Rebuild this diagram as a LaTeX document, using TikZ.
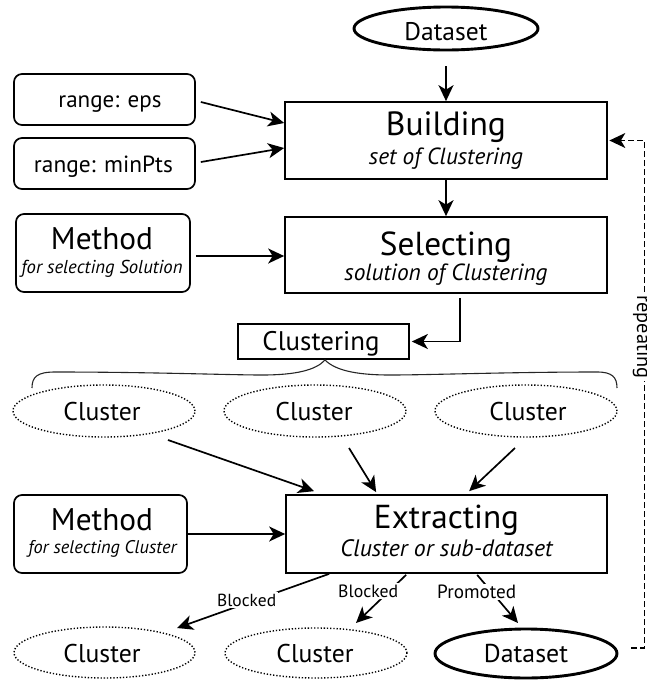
\documentclass[tikz,border=0pt]{standalone}
\usepackage{fontspec}
\setmainfont{PT Sans}
\usetikzlibrary{shapes.geometric,arrows.meta,calc}
\newcommand\tw[2]{\resizebox{#1pt}{!}{#2}}
\begin{document}
\begin{tikzpicture}[x=1pt,y=-1pt,
  box/.style={draw, rectangle, line width=1.7pt, inner sep=0pt},
  rbox/.style={box, rounded corners=8pt},
  ell/.style={ellipse, inner sep=0pt},
  dotell/.style={ell, draw, line width=1.4pt, dash pattern=on 1.3pt off 1.9pt},
  thickell/.style={ell, draw, line width=2.9pt},
  txt/.style={anchor=base, inner sep=0pt},
  arr/.style={line width=1.7pt, -{Stealth[length=16pt,width=15pt,inset=4.5pt]}},
  lbl/.style={fill=white, inner sep=1.5pt},
  dasharr/.style={arr, line width=1.3pt, dash pattern=on 6pt off 3pt}]
\useasboundingbox (0,0) rectangle (647,681);

% shapes
\node[thickell, minimum width=184pt, minimum height=43pt] (ds1) at (446,28.5) {};
\node[rbox, minimum width=181pt, minimum height=51pt] (eps) at (104.5,99.5) {};
\node[rbox, minimum width=181pt, minimum height=51pt] (minpts) at (104.5,163.5) {};
\node[box, minimum width=322pt, minimum height=77pt] (build) at (446,140.5) {};
\node[box, minimum width=322pt, minimum height=76pt] (sel) at (446,255) {};
\node[rbox, minimum width=174pt, minimum height=78pt] (meth1) at (103,253) {};
\node[box, minimum width=171pt, minimum height=35pt] (clu) at (323.5,341.5) {};
\node[dotell, minimum width=182pt, minimum height=52pt] (c1) at (104,411) {};
\node[dotell, minimum width=182pt, minimum height=52pt] (c2) at (315,411) {};
\node[dotell, minimum width=182pt, minimum height=52pt] (c3) at (526,411) {};
\node[rbox, minimum width=173pt, minimum height=78pt] (meth2) at (100.5,534) {};
\node[box, minimum width=321pt, minimum height=78pt] (ext) at (446.5,534) {};
\node[dotell, minimum width=181pt, minimum height=51pt] (c4) at (104.5,652.5) {};
\node[dotell, minimum width=182pt, minimum height=50pt] (c5) at (316,653) {};
\node[thickell, minimum width=182pt, minimum height=49pt] (ds2) at (526,653.5) {};

% texts
\node[txt] (ds1t) at (446,40) {\tw{83}{Dataset}};
\node[txt] (epst) at (110,107) {\tw{103}{range: eps}};
\node[txt] (minptst) at (103.5,172) {\tw{139}{range: minPts}};
\node[txt] (buildt) at (446,135) {\tw{120}{Building}};
\node[txt] (builds) at (446,164) {\tw{154}{\itshape set of Clustering}};
\node[txt] (selt) at (446,255) {\tw{132}{Selecting}};
\node[txt] (sels) at (446,280) {\tw{203}{\itshape solution of Clustering}};
\node[txt] (meth1t) at (102,249) {\tw{102}{Method}};
\node[txt] (meth1s) at (102,273) {\tw{161}{\itshape for selecting Solution}};
\node[txt] (clut) at (321,350) {\tw{117}{Clustering}};
\node[txt] (c1t) at (102,420) {\tw{77}{Cluster}};
\node[txt] (c2t) at (314,420) {\tw{77}{Cluster}};
\node[txt] (c3t) at (528,420) {\tw{77}{Cluster}};
\node[txt] (extt) at (446.5,528) {\tw{145}{Extracting}};
\node[txt] (exts) at (446.5,556) {\tw{212}{\itshape Cluster or sub-dataset}};
\node[txt] (meth2t) at (102,530) {\tw{102}{Method}};
\node[txt] (meth2s) at (102.5,553) {\tw{148}{\itshape for selecting Cluster}};
\node[txt] (c4t) at (102,662) {\tw{77}{Cluster}};
\node[txt] (c5t) at (315,662) {\tw{77}{Cluster}};
\node[txt] (ds2t) at (526,662) {\tw{84}{Dataset}};

% connectors
\draw[arr, shorten <=15pt] (ds1) -- (build);
\draw[arr] (build) -- (sel);
\draw[arr] ($(eps.east)+(5,2.5)$) -- ($(build.west)+(0,-17.5)$);
\draw[arr] ($(minpts.east)+(5,-1.5)$) -- ($(build.west)+(0,7.5)$);
\draw[arr] ($(meth1.east)+(5,3)$) -- ($(sel.west)+(0,1)$);
\draw[arr] ($(sel.south)+(14,4)$) |- ($(clu.east)+(2,0)$);
\draw[line width=1.1pt, black!85]
  (32,388) .. controls (32,377) and (37,372) .. (55,372)
  .. controls (150,372) and (230,375) .. (262,375)
  .. controls (296,375) and (316,370) .. (325,360)
  .. controls (335,370) and (355,375) .. (390,375)
  .. controls (430,375) and (510,372) .. (597,372)
  .. controls (612,372) and (617,377) .. (617,388);
\draw[arr] ($(c1.center)+(64,29)$) -- ($(ext.north west)+(29,-3)$);
\draw[arr] ($(c2.center)+(34,37)$) -- ($(ext.north west)+(91,-2)$);
\draw[arr] ($(c3.center)+(-11,37)$) -- ($(ext.north west)+(184,-3)$);
\draw[arr] (meth2.east) -- (ext.west);
\draw[arr] ($(ext.south west)+(44,0)$) -- node[lbl, pos=0.542, yshift=3pt] (b1) {\tw{59}{Blocked}} ($(c4.center)+(72.5,-24.5)$);
\draw[arr] ($(ext.south west)+(121,1)$) -- node[lbl, pos=0.337, xshift=-21pt] (b2) {\tw{60}{Blocked}} ($(c5.center)+(40,-30)$);
\draw[arr] ($(ext.south west)+(192,1)$) -- node[lbl, pos=0.357, xshift=-15pt] (pr) {\tw{79}{Promoted}} ($(ds2.center)+(-8,-30.5)$);
\draw[dasharr] ($(ds2.east)+(13,-5.5)$) -- ++(13,0) |- ($(build.east)+(1.5,0)$);
\node[txt, rotate=-90, fill=white, inner sep=2pt] (rep) at (637,337) {\tw{83}{repeating}};
\end{tikzpicture}
\end{document}
